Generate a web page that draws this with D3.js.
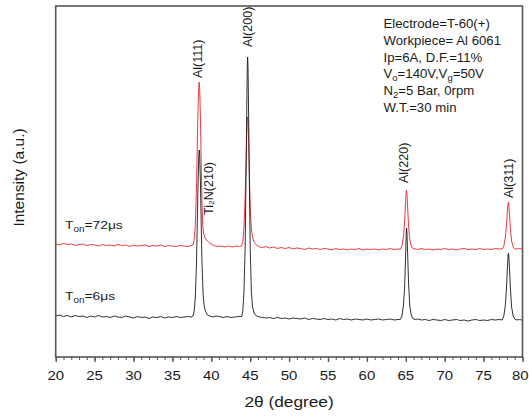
<!DOCTYPE html>
<html><head><meta charset="utf-8">
<script src="https://cdn.jsdelivr.net/npm/d3@7/dist/d3.min.js"></script>
<style>
body{margin:0;background:#fff}
text{font-family:"Liberation Sans",Arial,sans-serif;fill:#1a1a1a}
</style>
</head><body>
<svg id="chart" width="529" height="416"></svg>
<script>
// ---------- data ----------
const xTickValues = [20,25,30,35,40,45,50,55,60,65,70,75,80];
const xMinorTicks = d3.range(20, 81, 1);

// Ton = 6 us (black)  [2θ, intensity a.u.]
const ton6 = [
 [20,41],[20.5,42],[21,40.5],[21.5,41.5],[22,40],[22.5,41.5],[23,40.5],[23.5,41],[24,39.5],[24.5,41],
 [25,40],[25.5,41.5],[26,40],[26.5,40.5],[27,39.5],[27.5,41],[28,40],[28.5,39.5],[29,41],[29.5,40],
 [30,39],[30.5,40.5],[31,39.5],[31.5,40],[32,38.5],[32.5,40],[33,39.5],[33.5,40.5],[34,39],[34.5,40],
 [35,39.5],[35.5,40.5],[36,39.5],[36.5,40],[37,40.5],[37.4,40],
 [37.65,41],[37.8,46],[37.95,60],[38.1,95],[38.2,135],[38.3,175],[38.4,203],[38.45,207],[38.5,203],
 [38.6,175],[38.7,135],[38.8,95],[38.95,62],[39.1,50],[39.3,45],[39.5,42],[39.8,41],
 [40.2,40],[40.6,41],[41,40.5],[41.5,39.5],[42,40.5],[42.5,39.5],[43,40],[43.5,40.5],
 [43.9,40.5],[44.05,46],[44.2,65],[44.35,110],[44.45,170],[44.55,240],[44.62,290],[44.67,300],[44.72,290],
 [44.8,240],[44.9,170],[45.0,110],[45.15,65],[45.3,50],[45.5,44],[45.8,41],[46.2,40],
 [46.6,39.5],[47,39],[47.5,39.5],[48,38.5],[48.5,39.5],[49,38.5],[49.5,39],[50,38],[50.5,39],[51,38.5],
 [51.5,38],[52,39],[52.5,37.5],[53,38.5],[53.5,38],[54,37.5],[54.5,38.5],[55,37.5],[55.5,38],[56,37],
 [56.5,38.5],[57,37.5],[57.5,38],[58,37],[58.5,38],[59,37.5],[59.5,37],[60,38],[60.5,37],[61,37.5],
 [61.5,38],[62,37],[62.5,37.5],[63,38],[63.5,37],[64,37.5],
 [64.3,37.5],[64.5,41],[64.7,52],[64.85,70],[64.95,95],[65.05,122],[65.1,129],[65.15,124],[65.25,100],
 [65.35,75],[65.5,52],[65.7,42],[65.9,38.5],
 [66.2,37.5],[66.5,38],[67,37],[67.5,37.5],[68,36.5],[68.5,37.5],[69,37],[69.5,36.5],[70,37.5],[70.5,36.5],
 [71,37],[71.5,37.5],[72,36.5],[72.5,37],[73,36],[73.5,37],[74,37.5],[74.5,36.5],[75,37],[75.5,36.5],
 [76,37.5],[76.5,37],[77,37.5],
 [77.4,37],[77.6,41],[77.8,52],[77.95,70],[78.05,88],[78.15,102],[78.2,104],[78.25,100],[78.35,85],
 [78.45,68],[78.6,50],[78.8,41],[79.0,38],
 [79.3,37],[79.6,37.5],[79.9,37]
];

// Ton = 72 us (red)
const ton72 = [
 [20,113],[20.5,112],[21,113.5],[21.5,112.5],[22,113],[22.5,111.5],[23,112.5],[23.5,113],[24,111.5],[24.5,112.5],
 [25,112],[25.5,111],[26,112.5],[26.5,111.5],[27,112],[27.5,111],[28,112.5],[28.5,111.5],[29,112],[29.5,110.5],
 [30,112],[30.5,111],[31,111.5],[31.5,112],[32,110.5],[32.5,111.5],[33,111],[33.5,112],[34,110.5],[34.5,111.5],
 [35,111],[35.5,110.5],[36,111.5],[36.5,111],[37,110.5],[37.4,111.5],
 [37.65,112],[37.8,117],[37.95,133],[38.1,170],[38.2,212],[38.3,250],[38.4,272],[38.45,275],[38.5,270],
 [38.6,240],[38.7,195],[38.8,155],[38.9,132],[39.0,124],[39.2,119],[39.5,116],[39.8,114],
 [40.2,112],[40.7,110.5],[41.2,111],[41.7,110],[42.2,111],[42.7,110],[43.2,111],[43.6,110.5],
 [43.9,111],[44.05,115],[44.2,130],[44.35,160],[44.45,190],[44.55,222],[44.62,237],[44.67,240],[44.72,236],
 [44.8,215],[44.9,180],[45.0,150],[45.15,128],[45.3,120],[45.5,115],[45.8,112],[46.2,110],
 [46.6,109.5],[47,110.5],[47.5,109],[48,110],[48.5,108.5],[49,109.5],[49.5,108.5],[50,109.5],[50.5,108],[51,109],
 [51.5,108.5],[52,107.5],[52.5,109],[53,108],[53.5,108.5],[54,107.5],[54.5,108.5],[55,108],[55.5,107],[56,108.5],
 [56.5,107.5],[57,108],[57.5,107],[58,108],[58.5,107.5],[59,108.5],[59.5,107],[60,108],[60.5,107.5],[61,108],
 [61.5,107],[62,108],[62.5,107.5],[63,108.5],[63.5,107.5],[64,108],
 [64.3,108],[64.5,111],[64.7,120],[64.85,135],[64.95,152],[65.05,165],[65.1,167],[65.15,163],[65.25,148],
 [65.35,132],[65.5,118],[65.7,111],[65.9,108.5],
 [66.2,108],[66.5,107.5],[67,108.5],[67.5,107.5],[68,108],[68.5,107],[69,108],[69.5,107.5],[70,108.5],[70.5,107.5],
 [71,108],[71.5,107],[72,108],[72.5,108.5],[73,107.5],[73.5,108],[74,107.5],[74.5,108.5],[75,107.5],[75.5,108],
 [76,107.5],[76.5,108.5],[77,108],
 [77.4,108],[77.6,111],[77.8,120],[77.95,132],[78.05,145],[78.15,153],[78.2,155],[78.25,151],[78.35,140],
 [78.45,128],[78.6,116],[78.8,110],[79.0,108],
 [79.3,108],[79.6,108.5],[79.9,108]
];

// peak labels: text, 2θ, intensity where the label starts
const peakNames = ["Al(111)","Al(200)","Ti₂N(210)","Al(220)","Al(311)"];
const peakTheta = [38.29, 44.65, 39.58, 64.7, 78.26];
const peakLabelAt = [279, 310, 142, 174, 159];

const legendLines = [
 [["Electrode=T-60(+)",0]],
 [["Workpiece= Al 6061",0]],
 [["Ip=6A, D.F.=11%",0]],
 [["V",0],["o",1],["=140V,V",0],["g",1],["=50V",0]],
 [["N",0],["2",1],["=5 Bar, 0rpm",0]],
 [["W.T.=30 min",0]]
];

// ---------- layout ----------
const W = 529;
const svg = d3.select("#chart");
const L = 55.7, R = 522.5, T = 6, B = 357;
const x = d3.scaleLinear().domain([20, 80]).range([L, R]);
const y = d3.scaleLinear().domain([0, 350]).range([B, B - 350]);
const SX = 1.15; // horizontal text stretch of the source image

function richText(g, parts, size){
  const t = g.append("text").attr("font-size", size);
  let sub = false;
  parts.forEach(([s, isSub]) => {
    const ts = t.append("tspan").text(s);
    if (isSub && !sub){ ts.attr("font-size", size*0.72).attr("dy", size*0.22); sub = true; }
    else if (!isSub && sub){ ts.attr("dy", -size*0.22); sub = false; }
  });
  return t;
}

// curves
const line = d3.line().x(d => x(d[0])).y(d => y(d[1]));
svg.append("path").datum(ton72).attr("d", line)
  .attr("fill","none").attr("stroke","#e8262b").attr("stroke-width",0.9).attr("stroke-linejoin","round");
svg.append("path").datum(ton6).attr("d", line)
  .attr("fill","none").attr("stroke","#1a1a1a").attr("stroke-width",0.9).attr("stroke-linejoin","round");

// frame
svg.append("rect").attr("x", L).attr("y", T).attr("width", R - L).attr("height", B - T)
  .attr("fill","none").attr("stroke","#555").attr("stroke-width",1.6);

// x axis
const ax = svg.append("g").attr("transform", `translate(0,${B})`);
ax.call(d3.axisBottom(x).tickValues(xMinorTicks).tickSize(3).tickFormat(""))
  .call(g => g.select(".domain").remove())
  .call(g => g.selectAll("line").attr("stroke","#555").attr("stroke-width",1));
const ax2 = svg.append("g").attr("transform", `translate(0,${B})`);
ax2.call(d3.axisBottom(x).tickValues(xTickValues).tickSize(5).tickFormat(""))
  .call(g => g.select(".domain").remove())
  .call(g => g.selectAll("line").attr("stroke","#555").attr("stroke-width",1.4));
xTickValues.forEach(v => {
  const t = svg.append("text").attr("text-anchor","middle").attr("font-size",13).text(v);
  const half = t.node().getComputedTextLength() * SX / 2;
  const cx = Math.min(x(v), W - 0.5 - half);
  t.attr("transform", `translate(${cx},380) scale(${SX},1)`);
});

// axis titles
svg.append("text").attr("transform", `translate(${(L+R)/2},407) scale(${SX},1)`)
  .attr("text-anchor","middle").attr("font-size",15).text("2θ (degree)");
svg.append("text").attr("transform", `translate(24,177.5) rotate(-90)`)
  .attr("text-anchor","middle").attr("font-size",15.5).text("Intensity (a.u.)");

// peak labels (rotated)
peakNames.forEach((name, i) => {
  const g = svg.append("g")
    .attr("transform", `translate(${x(peakTheta[i])},${y(peakLabelAt[i])}) rotate(-90)`);
  g.append("text").attr("font-size",12.5).attr("dy","0.36em").text(name);
});

// series labels
const lab72 = svg.append("g").attr("transform", `translate(${x(21.2)},${y(128)}) scale(1.2,1)`);
richText(lab72, [["T",0],["on",1],["=72μs",0]], 11.5);
const lab6 = svg.append("g").attr("transform", `translate(${x(21.2)},${y(57)}) scale(1.2,1)`);
richText(lab6, [["T",0],["on",1],["=6μs",0]], 11.5);

// condition text block
legendLines.forEach((parts, i) => {
  const g = svg.append("g").attr("transform", `translate(383.5,${28 + i*16.8}) scale(1.1,1)`);
  richText(g, parts, 12);
});
</script>
</body></html>
